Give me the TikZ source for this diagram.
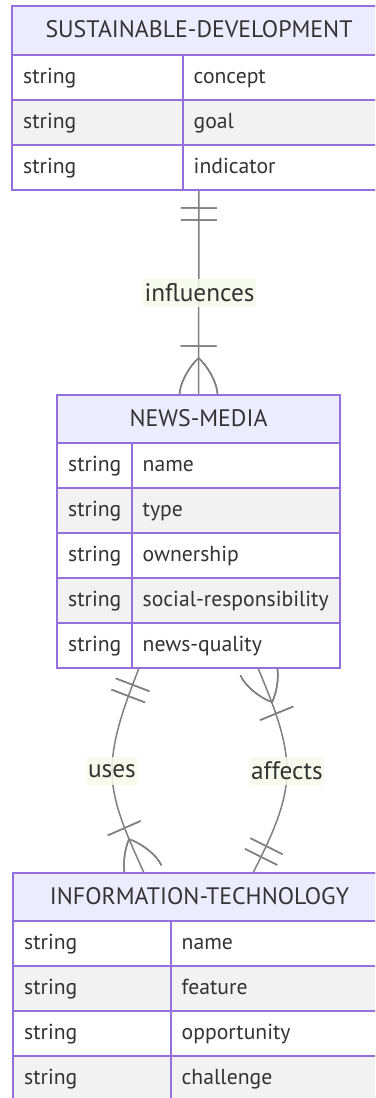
\documentclass[tikz,border=0pt]{standalone}
\usepackage{fontspec}
\setmainfont{PT Sans}
\usetikzlibrary{calc,decorations.markings}

\definecolor{entline}{HTML}{9370DB}
\definecolor{enthead}{HTML}{ECECFF}
\definecolor{roweven}{HTML}{F2F2F2}
\definecolor{ink}{HTML}{333333}
\definecolor{relline}{HTML}{808080}
\definecolor{labelbg}{HTML}{F6FAEA}

\pgfdeclarelayer{back}
\pgfsetlayers{back,main}

\newlength\calw

% exactly-one marker: two bars across the line (#1 is the sign toward the line)
\newcommand\markone[1]{%
  \draw[rel] (#118pt,-18pt) -- (#118pt,18pt);
  \draw[rel] (#130pt,-18pt) -- (#130pt,18pt);}
% one-or-more marker: a bar and a crow's foot
\newcommand\markmany[1]{%
  \draw[rel] (#149pt,-18pt) -- (#149pt,18pt);
  \draw[rel] (#137pt,0pt) .. controls (#129pt,9pt) and (#112pt,19pt) .. (0pt,19pt);
  \draw[rel] (#137pt,0pt) .. controls (#129pt,-9pt) and (#112pt,-19pt) .. (0pt,-19pt);}

% attribute rows: #1 prefix, #2 left x, #3 right x, #4 divider x, #5 first row top, #6 bottom, #7 names
\newcommand\attrrows[7]{%
  \foreach \an [count=\i] in {#7} {
    \pgfmathsetmacro\rt{#5+45*(\i-1)}
    \pgfmathsetmacro\rb{\rt+45}
    \ifodd\i\relax\else \fill[roweven] (#2,\rt) rectangle (#3,\rb); \fi
    \draw[entrule] (#2,\rt) -- (#3,\rt);
    \node[attr] (#1-type-\i) at (#2+11,\rt+28.5) {string};
    \node[attr] (#1-name-\i) at (#4+10.5,\rt+28.5) {\an};
  }
  \draw[entrule] (#4,#5) -- (#4,#6);}

\begin{document}
% font sizes from the widths of reference strings
\settowidth\calw{\fontsize{10pt}{12pt}\selectfont social-responsibility}
\pgfmathsetmacro\bodysz{1860/\calw}
\settowidth\calw{\fontsize{10pt}{12pt}\selectfont SUSTAINABLE-DEVELOPMENT}
\pgfmathsetmacro\headsz{3070/\calw}
\settowidth\calw{\fontsize{10pt}{12pt}\selectfont influences}
\pgfmathsetmacro\lblsz{1100/\calw}
\begin{tikzpicture}[x=1pt,y=-1pt,
  entity/.style={rectangle, draw=entline, line width=1.6pt, fill=white,
    inner sep=0pt, outer sep=0pt, anchor=north west},
  entrule/.style={draw=entline, line width=1.6pt},
  headtxt/.style={anchor=base, inner sep=0pt, text=ink,
    font=\fontsize{\headsz pt}{\headsz pt}\selectfont},
  attr/.style={anchor=base west, inner sep=0pt, text=ink,
    font=\fontsize{\bodysz pt}{\bodysz pt}\selectfont},
  rel/.style={draw=relline, line width=1.5pt},
  lbl/.style={fill=labelbg, fill opacity=0.85, text opacity=1, text=ink,
    inner xsep=1.5pt, inner ysep=0pt, minimum height=28pt,
    font=\fontsize{\lblsz pt}{\lblsz pt}\selectfont},
  startone/.style={postaction={decorate}, decoration={markings,
    mark=at position 0 with {\markone{}}}},
  startmany/.style={postaction={decorate}, decoration={markings,
    mark=at position 0 with {\markmany{}}}},
  endone/.style={postaction={decorate}, decoration={markings,
    mark=at position 1 with {\markone{-}}}},
  endmany/.style={postaction={decorate}, decoration={markings,
    mark=at position 1 with {\markmany{-}}}},
]
\useasboundingbox (0,0) rectangle (375,1098);
\clip (0,0) rectangle (375,1098);

% entity outlines
\node[entity, minimum width=374pt, minimum height=184pt] (sd) at (12,6) {};
\node[entity, minimum width=283pt, minimum height=273pt] (nm) at (57,395) {};
\node[entity, minimum width=373pt, minimum height=228pt] (it) at (13,873) {};

% SUSTAINABLE-DEVELOPMENT
\fill[enthead] (12,6) rectangle (386,55);
\node[headtxt] (sd-title) at (199,37) {SUSTAINABLE-DEVELOPMENT};
\attrrows{sd}{12}{386}{183}{55}{190}{concept,goal,indicator}
\draw[entrule] (sd.north west) rectangle (sd.south east);

% NEWS-MEDIA
\fill[enthead] (57,395) rectangle (340,443);
\node[headtxt] (nm-title) at (198.5,426) {NEWS-MEDIA};
\attrrows{nm}{57}{340}{132}{443}{668}{name,type,ownership,social-responsibility,news-quality}
\draw[entrule] (nm.north west) rectangle (nm.south east);

% INFORMATION-TECHNOLOGY
\fill[enthead] (13,873) rectangle (386,921);
\node[headtxt] (it-title) at (199.5,904) {INFORMATION-TECHNOLOGY};
\attrrows{it}{13}{386}{171}{921}{1101}{name,feature,opportunity,challenge}
\draw[entrule] (it.north west) rectangle (it.south east);

% relationship ends and label points
\coordinate (u1) at ($(nm.south west)+(82,0)$);
\coordinate (u2) at ($(it.north west)+(131,0)$);
\coordinate (umid) at (112,771);
\coordinate (a1) at ($(nm.south west)+(201,0)$);
\coordinate (a2) at ($(it.north west)+(240,0)$);
\coordinate (amid) at (287,771);

\begin{pgfonlayer}{back}
  \draw[rel, startone, endmany] (sd.south) -- (nm.north);
  \draw[rel, startone, endmany] (u1)
    .. controls ($(u1)+(-13,34)$) and ($(umid)+(0,-34)$) .. (umid)
    .. controls ($(umid)+(0,34)$) and ($(u2)+(-15,-34)$) .. (u2);
  \draw[rel, startmany, endone] (a1)
    .. controls ($(a1)+(14,34)$) and ($(amid)+(0,-34)$) .. (amid)
    .. controls ($(amid)+(0,34)$) and ($(a2)+(17,-34)$) .. (a2);
\end{pgfonlayer}

% relationship labels
\node[lbl] (l-infl) at (199.5,293) {influences};
\node[lbl] (l-uses) at (umid) {uses};
\node[lbl] (l-aff) at (amid) {affects};
\end{tikzpicture}
\end{document}
